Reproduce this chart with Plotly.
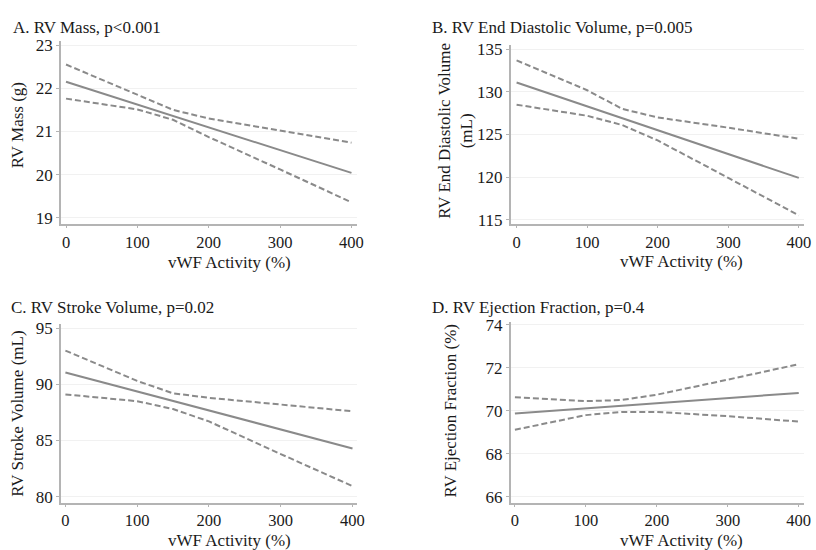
import plotly.graph_objects as go

W, H = 816, 550

# vWF activity grid (%) at which the fit and its confidence limits are drawn
vwf = [0, 100, 150, 200, 300, 400]

# A. RV mass (g)
mass_fit = [22.15, 21.62, 21.36, 21.10, 20.57, 20.04]
mass_hi = [22.55, 21.85, 21.50, 21.30, 21.02, 20.74]
mass_lo = [21.76, 21.51, 21.27, 20.87, 20.12, 19.36]

# B. RV end diastolic volume (mL)
edv_fit = [131.1, 128.3, 126.9, 125.5, 122.7, 119.9]
edv_hi = [133.7, 130.2, 128.0, 127.0, 125.8, 124.5]
edv_lo = [128.5, 127.2, 126.1, 124.3, 119.9, 115.5]

# C. RV stroke volume (mL)
sv_fit = [91.05, 89.36, 88.52, 87.68, 85.99, 84.30]
sv_hi = [93.0, 90.3, 89.2, 88.8, 88.2, 87.6]
sv_lo = [89.1, 88.5, 87.8, 86.7, 83.8, 80.95]

# D. RV ejection fraction (%)
ef_fit = [69.88, 70.12, 70.24, 70.36, 70.59, 70.83]
ef_hi = [70.63, 70.45, 70.50, 70.75, 71.45, 72.17]
ef_lo = [69.12, 69.80, 69.95, 69.95, 69.75, 69.50]

x_ticks = [0, 100, 200, 300, 400]
mass_ticks = [19, 20, 21, 22, 23]
edv_ticks = [115, 120, 125, 130, 135]
sv_ticks = [80, 85, 90, 95]
ef_ticks = [66, 68, 70, 72, 74]

titles = ["A. RV Mass, p<0.001", "B. RV End Diastolic Volume, p=0.005",
          "C. RV Stroke Volume, p=0.02", "D. RV Ejection Fraction, p=0.4"]
y_titles = ["RV Mass (g)", "RV End Diastolic Volume<br>(mL)",
            "RV Stroke Volume (mL)", "RV Ejection Fraction (%)"]
x_title = "vWF Activity (%)"

FONT = "'Liberation Serif', 'Times New Roman', 'DejaVu Serif', serif"
TXT = "#1a1a1a"
LINE = "#8a8a8a"
AXIS = "#b4b4b4"
GRID = "#f1f1f1"

# panel boxes in pixels: (left, right, top, bottom), plus axis ranges
panels = [
    dict(box=(61.7, 360.7, 36, 222.7), xr=[-6.9, 408], yr=[18.86, 23.09],
         fit=mass_fit, hi=mass_hi, lo=mass_lo, ticks=mass_ticks),
    dict(box=(516, 812, 40, 222.7), xr=[-8, 407.4], yr=[114.5, 135.5],
         fit=edv_fit, hi=edv_hi, lo=edv_lo, ticks=edv_ticks),
    dict(box=(61.7, 360.7, 325, 507.7), xr=[-6, 406.5], yr=[79.48, 95.37],
         fit=sv_fit, hi=sv_hi, lo=sv_lo, ticks=sv_ticks),
    dict(box=(516, 812, 323.3, 507.7), xr=[-5.6, 407.5], yr=[65.73, 74.12],
         fit=ef_fit, hi=ef_hi, lo=ef_lo, ticks=ef_ticks),
]

fig = go.Figure()
layout = dict(
    width=W, height=H, margin=dict(l=0, r=0, t=0, b=0),
    paper_bgcolor="white", plot_bgcolor="white", showlegend=False,
    font=dict(family=FONT, size=17, color=TXT),
)

for i, p in enumerate(panels, start=1):
    xa = "x" if i == 1 else f"x{i}"
    ya = "y" if i == 1 else f"y{i}"
    l, r, t, b = p["box"]
    for ys, dash in ((p["hi"], "6px,3px"), (p["lo"], "6px,3px"), (p["fit"], "solid")):
        fig.add_trace(go.Scatter(
            x=vwf, y=ys, mode="lines", xaxis=xa, yaxis=ya,
            line=dict(color=LINE, width=2, dash=dash), hoverinfo="skip"))
    common = dict(showline=True, linecolor=AXIS, linewidth=2, ticks="outside",
                  tickcolor=AXIS, tickwidth=1, zeroline=False)
    layout["xaxis" if i == 1 else f"xaxis{i}"] = dict(
        domain=[l / W, r / W], range=p["xr"], anchor=ya, tickvals=x_ticks,
        ticklen=2, tickfont=dict(family=FONT, size=16.5, color=TXT),
        showgrid=False, **common)
    layout["yaxis" if i == 1 else f"yaxis{i}"] = dict(
        domain=[1 - b / H, 1 - t / H], range=p["yr"], anchor=xa,
        tickvals=p["ticks"], ticklen=3, tickfont=dict(family=FONT, size=17, color=TXT),
        showgrid=True, gridcolor=GRID, gridwidth=1, **common)

annotations = []
# panel titles (left edge x, centre y in px)
for txt, (x, y) in zip(titles, [(11, 22), (434, 22), (9, 308), (434, 308)]):
    annotations.append(dict(text=txt, x=x / W, y=1 - y / H, xref="paper", yref="paper",
                            xanchor="left", yanchor="middle", showarrow=False,
                            font=dict(family=FONT, size=17, color=TXT)))
# x-axis titles
for x, y in [(232, 262), (688, 261), (232, 546), (688, 546)]:
    annotations.append(dict(text=x_title, x=x / W, y=1 - y / H, xref="paper", yref="paper",
                            xanchor="center", yanchor="middle", showarrow=False,
                            font=dict(family=FONT, size=17, color=TXT)))
# y-axis titles
for txt, (x, y) in zip(y_titles, [(18, 122), (460, 127), (18, 417), (455, 414)]):
    annotations.append(dict(text=txt, x=x / W, y=1 - y / H, xref="paper", yref="paper",
                            xanchor="center", yanchor="middle", showarrow=False,
                            textangle=-90,
                            font=dict(family=FONT, size=17, color=TXT)))
layout["annotations"] = annotations

fig.update_layout(**layout)
fig.write_html("out.html")
